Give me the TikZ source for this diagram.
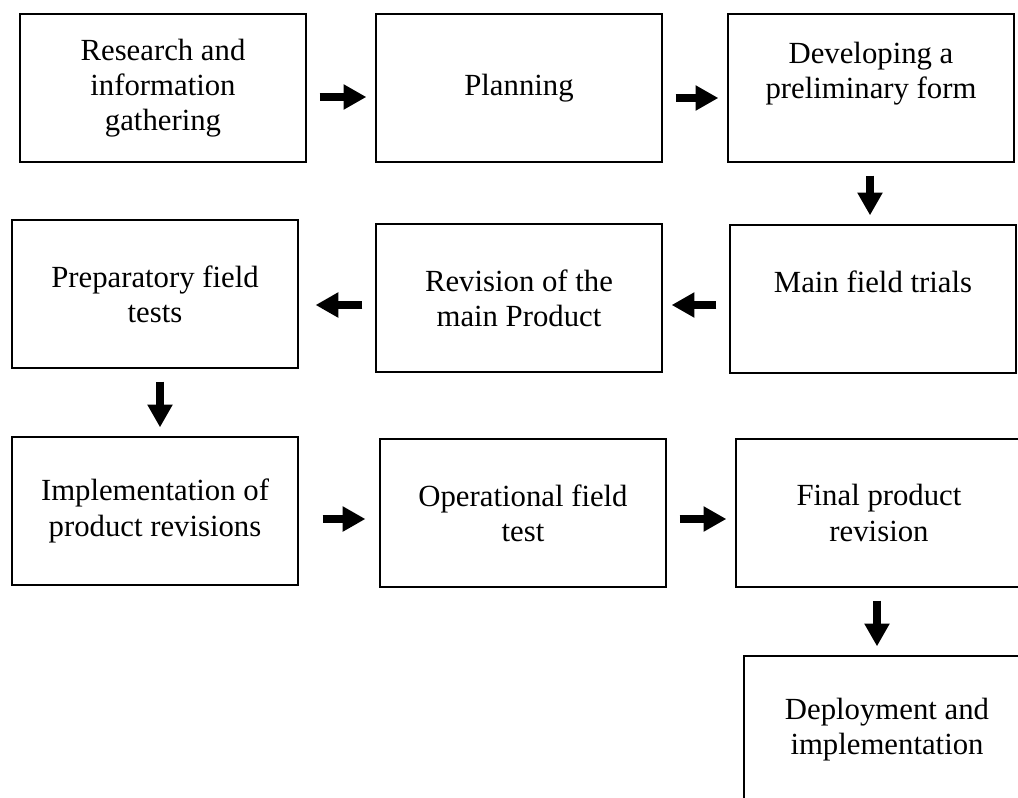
\documentclass[tikz,border=0pt]{standalone}
\usepackage{fontspec}
\setmainfont{Liberation Serif}
\usetikzlibrary{arrows.meta,calc}

\begin{document}
\begin{tikzpicture}[x=0.02cm,y=-0.02cm,
	stage/.style={draw, line width=0.8pt, minimum width=5.72cm, minimum height=2.96cm,
		align=center, font=\fontsize{17.5pt}{20pt}\selectfont},
	flow/.style={line width=4.7pt, -{Triangle[length=13pt,width=13.6pt]},
		shorten <=7.4pt, shorten >=5.1pt}]
				\useasboundingbox (0,0) rectangle (1018,798);
				\clip (0,0) rectangle (1018,798);
				
				% first row
				\node[stage] (res) at (163, 88) {Research and\\ information\\ gathering};
				\node[stage] (plan) at (519, 88) {Planning};
				\node[stage] (dev) at (871, 88) {Developing a\\ preliminary form\\ \mbox{}};
				
				% second row
				\node[stage] (prep) at (155, 294) {Preparatory field\\ tests};
				\node[stage] (rev) at (519, 298) {Revision of the\\ main Product};
				\node[stage] (trial) at (873, 299) {Main field trials\\ \mbox{}};
				
				% third row
				\node[stage] (impl) at (155, 511) {Implementation of\\ product revisions};
				\node[stage] (oper) at (523, 513) {Operational field\\ test};
				\node[stage] (final) at (879, 513) {Final product\\ revision};
				
				\node[stage] (deploy) at (887, 730) {Deployment and\\ implementation};
				
				% arrows
				\draw[flow] ($(res.east)+(0,9)$) -- ($(res.east -| plan.west)+(0,9)$);
				\draw[flow] ($(plan.east)+(0,10)$) -- ($(plan.east -| dev.west)+(0,10)$);
				\draw[flow] ($(dev.south)+(-1,0)$) -- ($(dev.south |- trial.north)+(-1,0)$);
				\draw[flow] ($(trial.west)+(0,6)$) -- ($(trial.west -| rev.east)+(0,6)$);
				\draw[flow, shorten >=9.6pt] ($(rev.west)+(0,7)$) -- ($(rev.west -| prep.east)+(0,7)$);
				\draw[flow] ($(prep.south)+(5,0)$) -- ($(prep.south |- impl.north)+(5,0)$);
				\draw[flow, shorten <=13.6pt, shorten >=7.9pt] ($(impl.east)+(0,8)$) -- ($(impl.east -| oper.west)+(0,8)$);
				\draw[flow] ($(oper.east)+(0,6)$) -- ($(oper.east -| final.west)+(0,6)$);
				\draw[flow] ($(final.south)+(-2,0)$) -- ($(final.south |- deploy.north)+(-2,0)$);
				
\end{tikzpicture}
\end{document}
